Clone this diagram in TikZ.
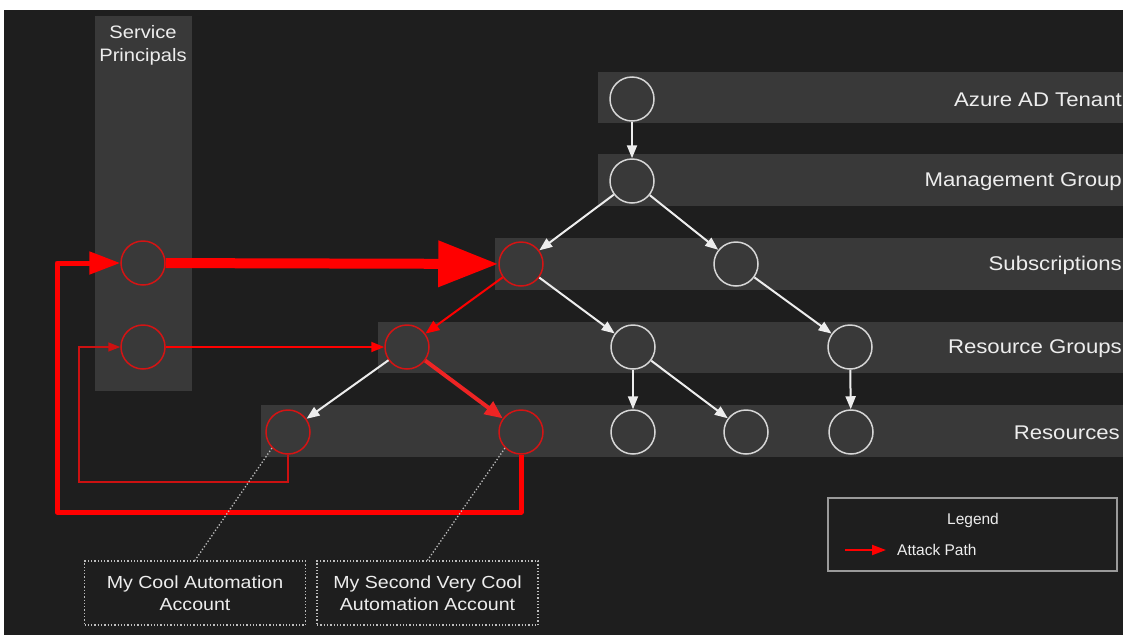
\documentclass[tikz,border=0pt]{standalone}
\usepackage{fontspec}
\setmainfont{Liberation Sans}[FakeStretch=1.12]
\newfontfamily\legendfont{Liberation Sans}
\usetikzlibrary{arrows.meta,calc}
\definecolor{canvas}{HTML}{1E1E1E}
\definecolor{band}{HTML}{393939}
\definecolor{ring}{HTML}{D6D6D6}
\definecolor{ink}{HTML}{EDEDED}
\definecolor{hot}{HTML}{FF0000}
\definecolor{hotring}{HTML}{D41414}
\definecolor{hotsoft}{HTML}{EE2424}
\definecolor{hotdark}{HTML}{CC1111}
\definecolor{frame}{HTML}{9A9A9A}
\definecolor{leader}{HTML}{BDBDBD}
\begin{document}
\begin{tikzpicture}[x=1pt,y=-1pt,
  layer/.style={fill=band},
  tier/.style={anchor=east, text=ink, inner sep=0, font=\fontsize{19.8}{23}\selectfont},
  res/.style={circle, minimum size=44pt, inner sep=0, fill=band, draw=ring, line width=1.5pt},
  hit/.style={res, draw=hotring},
  link/.style={draw=ink, line width=2pt, -{Triangle[length=13pt,width=10pt]}},
  redthin/.style={draw=hot, line width=2pt, -{Triangle[length=14pt,width=11pt]}},
  callout/.style={draw=leader, line width=1.3pt, dash pattern=on 1.3pt off 2pt},
  account/.style={draw=leader, line width=1.3pt, dash pattern=on 1.3pt off 2pt,
    minimum width=221pt, minimum height=64pt, inner sep=0, align=center, text=ink,
    font=\fontsize{17.5}{22}\selectfont}
]
% page and canvas
\useasboundingbox (0,0) rectangle (1123,635);
\fill[white] (0,0) rectangle (1123,635);
\fill[canvas] (4,10) rectangle (1123,635);

% hierarchy bands
\fill[layer] (598,72) rectangle (1123,123);
\fill[layer] (598,154) rectangle (1123,206);
\fill[layer] (495,238) rectangle (1123,290);
\fill[layer] (378,322) rectangle (1123,373);
\fill[layer] (261,405) rectangle (1123,457);
\fill[layer] (95,16) rectangle (192,391);

% band labels
\node[tier] (lblTenant) at (1122,100) {Azure AD Tenant};
\node[tier] (lblMg) at (1122,182) {Management Group};
\node[tier] (lblSub) at (1122,265) {Subscriptions};
\node[tier] (lblRg) at (1122,349) {Resource Groups};
\node[tier] (lblRes) at (1120,433) {Resources};
\node[text=ink, align=center, inner sep=0, font=\fontsize{18}{23}\selectfont] (lblSp) at (143,45) {Service\\Principals};

% nodes
\node[res] (tenant) at (632,99) {};
\node[res] (mg) at (632,181) {};
\node[hit] (subA) at (521,264) {};
\node[res] (subB) at (736,264) {};
\node[hit] (rgA) at (407,347) {};
\node[res] (rgB) at (633,347) {};
\node[res] (rgC) at (850,347) {};
\node[hit] (resA) at (288,432) {};
\node[hit] (resB) at (521,432) {};
\node[res] (resC) at (633,432) {};
\node[res] (resD) at (746,432) {};
\node[res] (resE) at (851,432) {};
\node[hit] (spA) at (143,263) {};
\node[hit] (spB) at (143,347) {};

% containment
\draw[link] (tenant) -- (mg);
\draw[link] (mg) -- (subA);
\draw[link] (mg) -- (subB);
\draw[link] (subA) -- (rgB);
\draw[link] (subB) -- (rgC);
\draw[link] (rgA) -- (resA);
\draw[link] (rgB) -- (resC);
\draw[link] (rgB) -- (resD);
\draw[link] (rgC) -- (resE);

% attack path
\draw[redthin] (subA) -- (rgA);
\draw[draw=hotsoft, line width=4pt, -{Triangle[length=18pt,width=15pt]}] (rgA) -- (resB);
\draw[redthin, line width=1.8pt, -{Triangle[length=13pt,width=10pt]}] (spB) -- (rgA);
\draw[draw=hot, line width=10pt, -{Triangle[length=60pt,width=44pt]}] (spA) -- (subA);
\coordinate (loopA) at (79,482);
\coordinate (loopB) at (57,512);
\draw[draw=hotdark, line width=1.5pt, -{Triangle[length=12pt,width=9pt]}] (resA.south) |- (loopA) |- (spB.west);
\draw[draw=hot, line width=5pt, line join=round, -{Triangle[length=31pt,width=22pt]}] (resB.south) |- (loopB) |- (spA.west);

% account callouts
\node[account] (accA) at (195,593) {My Cool Automation\\Account};
\node[account] (accB) at (427.5,593) {My Second Very Cool\\Automation Account};
\draw[callout] (resA.225) -- (accA.north);
\draw[callout] (resB.225) -- (accB.north);

% legend
\node[draw=frame, line width=1.5pt, minimum width=289pt, minimum height=73pt, inner sep=0] (legend) at (972.5,534.5) {};
\node[text=ink, inner sep=0, font=\legendfont\fontsize{15.5}{18}\selectfont] (legendTitle) at (973,520) {Legend};
\coordinate (keyFrom) at (845,550);
\coordinate (keyTo) at (886,550);
\draw[draw=hot, line width=2pt, -{Triangle[length=14pt,width=10pt]}] (keyFrom) -- (keyTo);
\node[anchor=west, text=ink, inner sep=0, font=\legendfont\fontsize{15.5}{18}\selectfont] (keyText) at (897,550) {Attack Path};
\end{tikzpicture}
\end{document}
